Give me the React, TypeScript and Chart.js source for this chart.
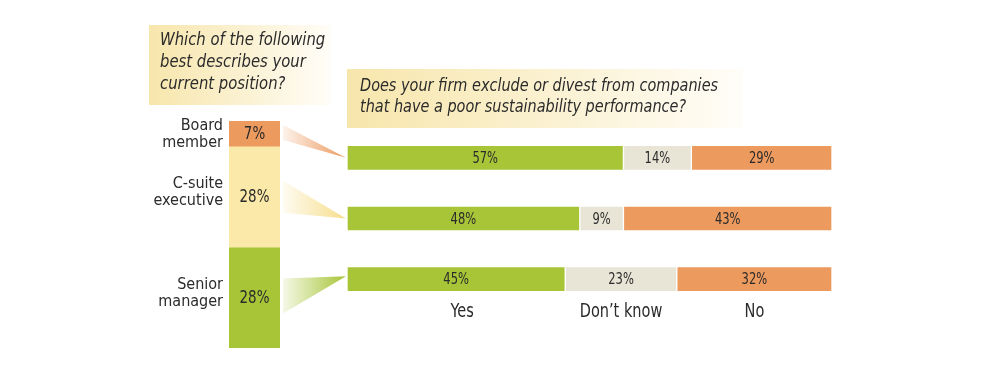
import React, { useEffect, useRef } from "react";
import { Chart, registerables } from "chart.js";

Chart.register(...registerables);

// ---- Data ----
const positionCategories = ["Board member", "C-suite executive", "Senior manager"];
const positionLabelLines = [["Board", "member"], ["C-suite", "executive"], ["Senior", "manager"]];
const positionShare = [7, 28, 28];
const answerLabels = ["Yes", "Don\u2019t know", "No"];
const yesValues = [57, 48, 45];
const dontKnowValues = [14, 9, 23];
const noValues = [29, 43, 32];
const question1Lines = ["Which of the following", "best describes your", "current position?"];
const question2Lines = [
  "Does your firm exclude or divest from companies",
  "that have a poor sustainability performance?",
];

// ---- Styles ----
const W = 981;
const H = 368;
const GREEN = "rgb(168,197,56)";
const BEIGE = "rgb(232,229,214)";
const ORANGE = "rgb(236,154,94)";
const YELLOW = "rgb(250,233,168)";
const positionColors = [ORANGE, YELLOW, GREEN];
const wedgeRGB = ["236,154,94", "247,222,140", "168,197,56"];
const TEXT = "#2b2b2b";
const FONT = "'Liberation Sans Narrow', 'DejaVu Sans Condensed', 'Roboto', sans-serif";

function drawBox(ctx: CanvasRenderingContext2D, x: number, y: number, w: number, h: number) {
  const g = ctx.createLinearGradient(x, 0, x + w, 0);
  g.addColorStop(0, "rgb(247,230,172)");
  g.addColorStop(0.55, "rgb(251,242,212)");
  g.addColorStop(1, "rgba(255,253,248,1)");
  ctx.fillStyle = g;
  ctx.fillRect(x, y, w, h);
}

function fillScaled(ctx: CanvasRenderingContext2D, text: string, x: number, y: number, sx: number) {
  ctx.save();
  ctx.translate(x, y);
  ctx.scale(sx, 1);
  ctx.fillText(text, 0, 0);
  ctx.restore();
}

export default function App() {
  const refA = useRef<HTMLCanvasElement | null>(null);
  const refB = useRef<HTMLCanvasElement | null>(null);

  useEffect(() => {
    if (!refA.current || !refB.current) return;

    const decorA = {
      id: "decorA",
      beforeDatasetsDraw(chart: any) {
        const ctx = chart.ctx as CanvasRenderingContext2D;
        ctx.save();
        drawBox(ctx, 149, 25, 182, 80);
        drawBox(ctx, 347, 69, 396, 59);
        ctx.fillStyle = TEXT;
        ctx.textBaseline = "middle";
        ctx.textAlign = "left";
        ctx.font = `italic 17px ${FONT}`;
        question1Lines.forEach((t, i) => fillScaled(ctx, t, 160, 41 + i * 22, 0.97));
        question2Lines.forEach((t, i) => fillScaled(ctx, t, 360, 87 + i * 21, 0.945));
        ctx.restore();
      },
      afterDatasetsDraw(chart: any) {
        const ctx = chart.ctx as CanvasRenderingContext2D;
        ctx.save();
        ctx.textAlign = "center";
        ctx.textBaseline = "middle";
        ctx.font = `16px ${FONT}`;
        ctx.fillStyle = TEXT;
        chart.data.datasets.forEach((ds: any, di: number) => {
          const meta = chart.getDatasetMeta(di);
          meta.data.forEach((el: any, i: number) => {
            const cx = (el.x + el.base) / 2;
            fillScaled(ctx, ds.data[i] + "%", cx, el.y + 1, 0.8);
          });
        });
        const last = chart.data.labels.length - 1;
        ctx.font = `19px ${FONT}`;
        chart.data.datasets.forEach((ds: any, di: number) => {
          const el = chart.getDatasetMeta(di).data[last];
          fillScaled(ctx, answerLabels[di], (el.x + el.base) / 2 + (di === 0 ? 6 : 0), el.y + 33, 0.85);
        });
        ctx.restore();
      },
    };

    const chartA = new Chart(refA.current, {
      type: "bar",
      data: {
        labels: positionCategories,
        datasets: [
          { label: answerLabels[0], data: yesValues, backgroundColor: GREEN },
          { label: answerLabels[1], data: dontKnowValues, backgroundColor: BEIGE },
          { label: answerLabels[2], data: noValues, backgroundColor: ORANGE },
        ].map((d) => ({ ...d, barThickness: 25, borderWidth: 1, borderColor: "rgba(255,255,255,0.7)", borderSkipped: false })),
      },
      options: {
        indexAxis: "y",
        responsive: false,
        animation: false,
        devicePixelRatio: 1,
        layout: { padding: { left: 347, right: W - 832, top: 127.5, bottom: H - 309.5 } },
        scales: {
          x: { stacked: true, min: 0, max: 100, display: false },
          y: { stacked: true, display: false },
        },
        plugins: { legend: { display: false }, tooltip: { enabled: false } },
      },
      plugins: [decorA],
    } as any);

    const decorB = {
      id: "decorB",
      beforeDatasetsDraw(chart: any) {
        const ctx = chart.ctx as CanvasRenderingContext2D;
        ctx.save();
        positionCategories.forEach((_, i) => {
          const el = chart.getDatasetMeta(i).data[0];
          const top = Math.min(el.y, el.base);
          const bot = Math.max(el.y, el.base);
          const mid = (top + bot) / 2;
          const half = Math.min(16, (bot - top) / 2 - 4);
          const x0 = el.x + el.width / 2 + 3;
          const target = chartA.getDatasetMeta(0).data[i] as any;
          const x1 = target.base - 1;
          const ty = target.y - (i === 2 ? 3 : 0);
          const y0 = i === 0 ? top + 4 : mid - half - (i === 2 ? 3 : 0);
          const y1 = i === 0 ? top + 19 : mid + half;
          const g = ctx.createLinearGradient(x0, 0, x1, 0);
          g.addColorStop(0, `rgba(${wedgeRGB[i]},0.12)`);
          g.addColorStop(1, `rgba(${wedgeRGB[i]},1)`);
          ctx.fillStyle = g;
          ctx.beginPath();
          ctx.moveTo(x0, y0);
          ctx.lineTo(x1, ty);
          ctx.lineTo(x0, y1);
          ctx.closePath();
          ctx.fill();
        });
        ctx.restore();
      },
      afterDatasetsDraw(chart: any) {
        const ctx = chart.ctx as CanvasRenderingContext2D;
        ctx.save();
        ctx.textBaseline = "middle";
        positionCategories.forEach((_, i) => {
          const el = chart.getDatasetMeta(i).data[0];
          const mid = (el.y + el.base) / 2;
          ctx.fillStyle = TEXT;
          ctx.textAlign = "center";
          ctx.font = `18px ${FONT}`;
          fillScaled(ctx, positionShare[i] + "%", el.x, mid + 1, 0.83);
          ctx.textAlign = "right";
          ctx.font = `16px ${FONT}`;
          const lines = positionLabelLines[i];
          const ly = i === 0 ? mid : mid - 5;
          ctx.fillText(lines[0], el.x - el.width / 2 - 6, ly - 8);
          ctx.fillText(lines[1], el.x - el.width / 2 - 6, ly + 9);
        });
        ctx.restore();
      },
    };

    const total = positionShare.reduce((a, b) => a + b, 0);
    const chartB = new Chart(refB.current, {
      type: "bar",
      data: {
        labels: ["Position"],
        datasets: positionCategories.map((c, i) => ({
          label: c,
          data: [positionShare[i]],
          backgroundColor: positionColors[i],
          categoryPercentage: 1,
          barPercentage: 1,
          borderWidth: 0,
          order: i,
        })),
      },
      options: {
        responsive: false,
        animation: false,
        devicePixelRatio: 1,
        layout: { padding: { left: 229, right: W - 280, top: 121, bottom: H - 348 } },
        scales: {
          x: { stacked: true, display: false },
          y: { stacked: true, min: 0, max: total, reverse: true, display: false },
        },
        plugins: { legend: { display: false }, tooltip: { enabled: false } },
      },
      plugins: [decorB],
    } as any);

    return () => {
      chartB.destroy();
      chartA.destroy();
    };
  }, []);

  const cs: React.CSSProperties = { position: "absolute", left: 0, top: 0, width: W, height: H };
  return (
    <div style={{ position: "absolute", left: 0, top: 0, width: W, height: H, background: "#fff" }}>
      <canvas ref={refA} width={W} height={H} style={cs} />
      <canvas ref={refB} width={W} height={H} style={cs} />
    </div>
  );
}
